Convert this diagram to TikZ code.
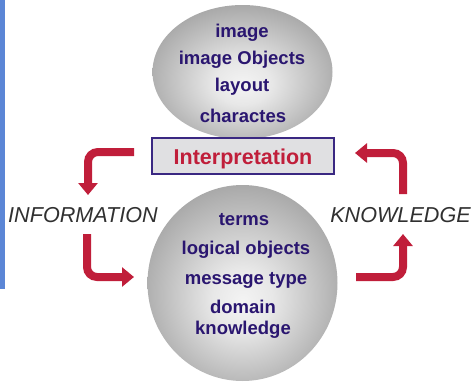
\documentclass[tikz,border=0pt]{standalone}
\usepackage{fontspec}
\setmainfont{Liberation Sans}
\usetikzlibrary{shapes.geometric,arrows.meta}
\definecolor{barblue}{RGB}{91,134,214}
\definecolor{flowred}{RGB}{192,30,58}
\definecolor{inkblue}{RGB}{42,22,112}
\definecolor{boxline}{RGB}{58,40,130}
\definecolor{boxfill}{RGB}{224,224,226}
\definecolor{ballin}{RGB}{244,244,244}
\definecolor{ballout}{RGB}{160,160,160}
\definecolor{labelgray}{RGB}{48,48,48}
% sphere shading with its highlight a little below the middle
\pgfdeclareradialshading{ballshade}{\pgfpoint{0bp}{-5bp}}{%
  color(0bp)=(ballin); color(8bp)=(ballin!85!ballout);
  color(30bp)=(ballout); color(50bp)=(ballout)}
\tikzset{
  ball/.style={ellipse, inner sep=0pt, draw=none, shading=ballshade},
  balltext/.style={text=inkblue, font=\fontsize{18.5}{20}\selectfont\bfseries,
    inner sep=0pt, text height=13pt, text depth=4pt},
  interpbox/.style={rectangle, draw=boxline, line width=1.4pt, fill=boxfill,
    minimum width=182pt, minimum height=36pt, inner sep=0pt,
    text height=21pt, text depth=4pt,
    text=flowred, font=\fontsize{21.5}{23}\selectfont\bfseries},
  sidelabel/.style={text=labelgray, font=\fontsize{21.6}{23}\selectfont\itshape, inner sep=0pt},
  flow/.style={draw=flowred, line width=8pt, rounded corners=10pt,
    -{Triangle[width=19pt,length=12pt]}}
}
\begin{document}
\begin{tikzpicture}[x=1pt,y=-1pt]
  \useasboundingbox (0,0) rectangle (471,383);
  % left margin bar
  \fill[barblue] (0,0) rectangle (5,289);

  % upper sphere with its contents
  \node[ball, minimum width=180pt, minimum height=134pt] (upper) at (242.5,72) {};
  \node[balltext] (u1) at (242,33) {image};
  \node[balltext] (u2) at (242,60) {image Objects};
  \node[balltext] (u3) at (242,87) {layout};
  \node[balltext] (u4) at (243,118) {charactes};

  % lower sphere with its contents
  \node[ball, minimum width=190pt, minimum height=196pt] (lower) at (242.5,283) {};
  \node[balltext] (l1) at (244,221) {terms};
  \node[balltext] (l2) at (246,250) {logical objects};
  \node[balltext] (l3) at (246,280) {message type};
  \node[balltext] (l4) at (243,309) {domain};
  \node[balltext] (l5) at (243,330) {knowledge};

  % interpretation box
  \node[interpbox] (interp) at (243,156) {Interpretation};

  % side labels
  \node[sidelabel] (info) at (83,215) {INFORMATION};
  \node[sidelabel] (know) at (400.5,215) {KNOWLEDGE};

  % connector end points
  \coordinate (lus) at (134,152);
  \coordinate (lue) at (88,195);
  \coordinate (lls) at (87,234);
  \coordinate (lle) at (134,277);
  \coordinate (rls) at (356,277);
  \coordinate (rle) at (403,234);
  \coordinate (rus) at (403,194);
  \coordinate (rue) at (355,153);

  % cycle arrows
  \draw[flow] (lus) -| (lue);
  \draw[flow] (lls) |- (lle);
  \draw[flow] (rls) -| (rle);
  \draw[flow] (rus) |- (rue);
\end{tikzpicture}
\end{document}
